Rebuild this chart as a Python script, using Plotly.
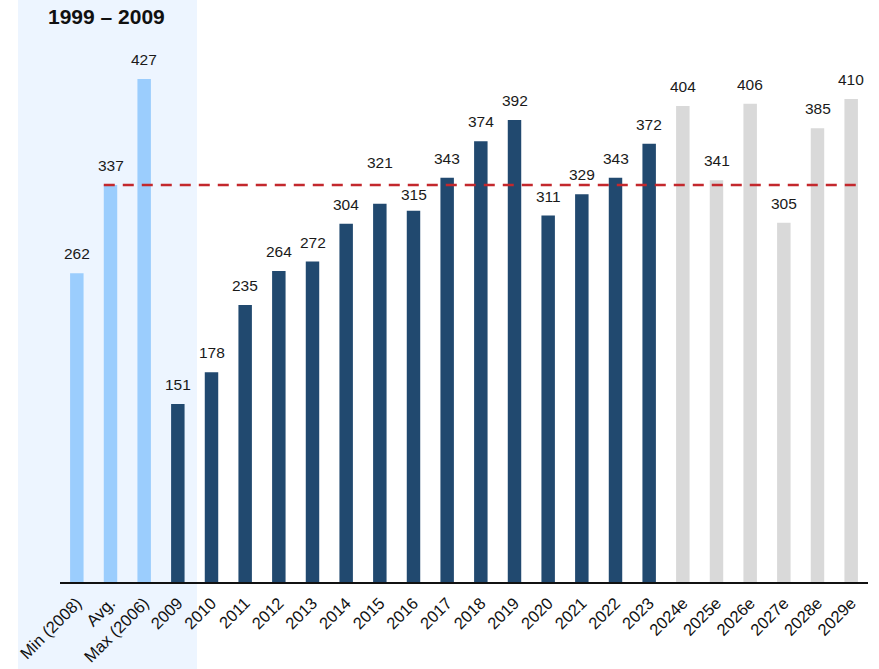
import plotly.graph_objects as go

categories = ["Min (2008)", "Avg.", "Max (2006)", "2009", "2010", "2011", "2012", "2013",
              "2014", "2015", "2016", "2017", "2018", "2019", "2020", "2021", "2022",
              "2023", "2024e", "2025e", "2026e", "2027e", "2028e", "2029e"]
values = [262, 337, 427, 151, 178, 235, 264, 272, 304, 321, 315, 343, 374, 392, 311,
          329, 343, 372, 404, 341, 406, 305, 385, 410]
groups = ["hist"] * 3 + ["actual"] * 15 + ["forecast"] * 6
average_value = 337
title_text = "1999 – 2009"

group_colors = {"hist": "#9BCDFD", "actual": "#21496F", "forecast": "#D9D9D9"}
colors = [group_colors[g] for g in groups]
idx = list(range(len(categories)))

FONT = "Arial, 'Liberation Sans', sans-serif"

fig = go.Figure()
fig.add_trace(go.Bar(
    x=idx, y=values, marker=dict(color=colors, line=dict(width=0)),
    width=0.4, hovertext=categories, hoverinfo="text+y", showlegend=False,
))

# label nudges (pixels) to keep labels clear of the average line
label_nudge = {"2015": 22, "2016": -3}
for i, c, v in zip(idx, categories, values):
    fig.add_annotation(x=i, y=v, text=str(v), showarrow=False, yanchor="bottom",
                       yshift=9 + label_nudge.get(c, 0),
                       font=dict(family=FONT, size=15.5, color="#1a1a1a"))

# average dashed line
fig.add_shape(type="line", xref="x", yref="y", x0=0.8, x1=len(categories) - 1 + 0.2,
              y0=average_value, y1=average_value,
              line=dict(color="#C3282D", width=2.6, dash="11px,8px"), layer="above")

# shaded historical region
fig.add_shape(type="rect", xref="paper", yref="paper", x0=-0.052, x1=0.1696,
              y0=-0.3, y1=1.2, fillcolor="#EDF5FF", line=dict(width=0), layer="below")

fig.add_annotation(xref="paper", yref="paper", x=0.058, y=1.044, text="<b>" + title_text + "</b>",
                   showarrow=False, xanchor="center", yanchor="middle",
                   font=dict(family=FONT, size=21, color="#111111"))

fig.update_layout(
    width=879, height=669,
    margin=dict(l=60, r=11, t=40, b=87, autoexpand=False),
    plot_bgcolor="rgba(0,0,0,0)", paper_bgcolor="white",
    font=dict(family=FONT, size=16, color="#111111"),
)
fig.update_xaxes(range=[-0.5, len(categories) - 0.5], tickmode="array", tickvals=idx,
                 ticktext=categories, tickangle=-45, showline=True, linecolor="#111111",
                 linewidth=2, ticks="", showgrid=False, zeroline=False,
                 ticklabelstandoff=3, automargin=False,
                 tickfont=dict(family=FONT, size=16.5, color="#111111"))
fig.update_yaxes(range=[0, 460], visible=False, showgrid=False, zeroline=False)

fig.write_html("out.html", config={"displayModeBar": False},
               post_script="document.body.style.margin='0';")
